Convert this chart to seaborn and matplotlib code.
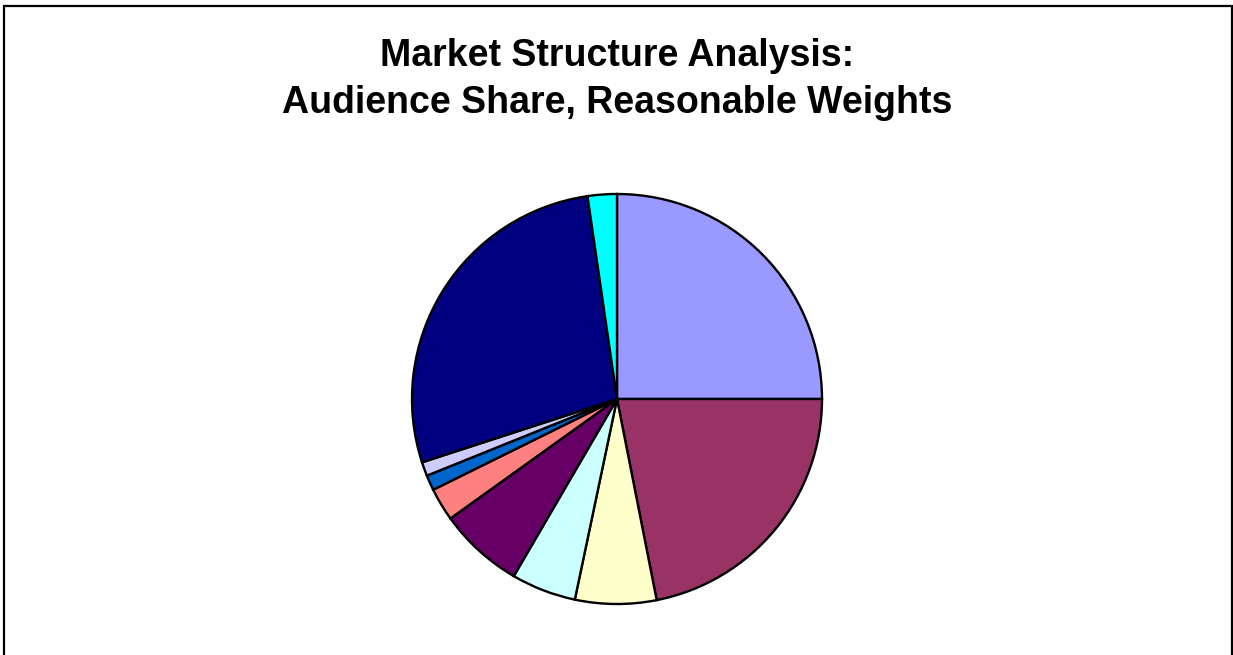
import matplotlib
matplotlib.use("Agg")
import matplotlib.pyplot as plt
from matplotlib.patches import Rectangle
import seaborn as sns

# Audience share by outlet (percent), clockwise from 12 o'clock
outlets = ["Outlet A", "Outlet B", "Outlet C", "Outlet D", "Outlet E",
           "Outlet F", "Outlet G", "Outlet H", "Outlet I", "Outlet J"]
shares = [25.0, 21.9, 6.4, 5.1, 6.7, 2.6, 1.2, 1.1, 27.7, 2.3]
slice_colors = ["#9999FF", "#993366", "#FFFFCC", "#CCFFFF", "#660066",
                "#FF8080", "#0066CC", "#CCCCFF", "#000080", "#00FFFF"]
title_lines = ["Market Structure Analysis:", "Audience Share, Reasonable Weights"]

sns.set_theme(style="white")
plt.rcParams["font.family"] = ["Liberation Sans", "DejaVu Sans"]

W, H = 1233, 655
fig = plt.figure(figsize=(W / 100, H / 100), dpi=100)
fig.patch.set_facecolor("white")

# chart-area frame (open at the bottom edge of the image)
fig.patches.append(Rectangle((4 / W, -0.05), 1227.5 / W, 1 - 6 / H + 0.05,
                             transform=fig.transFigure, fill=False,
                             edgecolor="black", linewidth=1.6, clip_on=False))

# title, two centred lines
fig.text(617 / W, 1 - 65.5 / H, title_lines[0], ha="center", va="baseline",
         fontsize=27, fontweight="bold", color="black")
fig.text(617 / W, 1 - 113 / H, title_lines[1], ha="center", va="baseline",
         fontsize=27, fontweight="bold", color="black")

cx, cy, r = 617, 399, 205
ax = fig.add_axes([(cx - r) / W, (H - cy - r) / H, 2 * r / W, 2 * r / H])
ax.pie(shares, labels=None, colors=slice_colors, startangle=90,
       counterclock=False,
       wedgeprops=dict(edgecolor="black", linewidth=1.7, antialiased=True))
ax.set_xlim(-1, 1)
ax.set_ylim(-1, 1)
ax.set_aspect("equal")
for p in ax.patches:
    p.set_clip_on(False)
ax.axis("off")

fig.savefig("out.png", dpi=100, facecolor="white")
